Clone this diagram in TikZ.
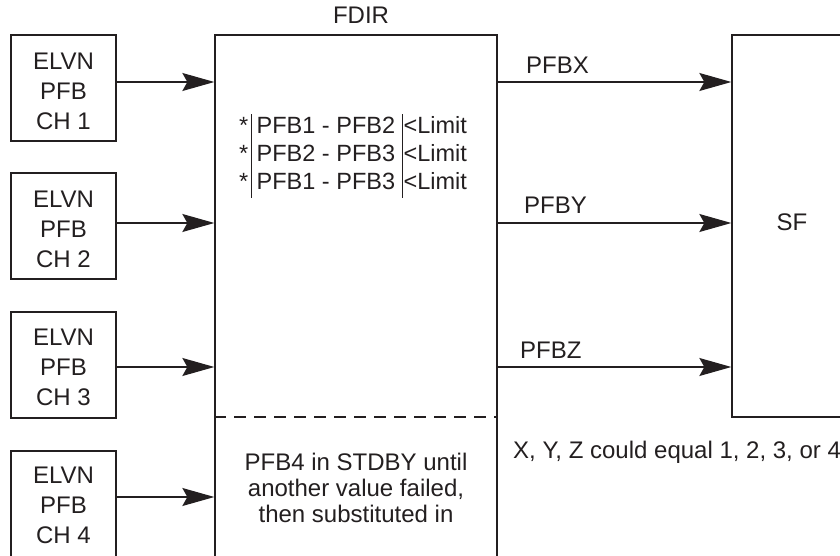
\documentclass[tikz,border=0pt]{standalone}
\usepackage{fontspec}
\setmainfont{Liberation Sans}
\usetikzlibrary{arrows.meta}
\definecolor{ink}{RGB}{35,31,32}
\begin{document}
\begin{tikzpicture}[x=1pt,y=-1pt,
  every node/.style={text=ink},
  line/.style={draw=ink,line width=1.3pt},
  chbox/.style={line,rectangle,minimum width=105pt,minimum height=106pt,inner sep=0pt,align=center,font=\fontsize{24}{30}\selectfont},
  bigbox/.style={line,rectangle,inner sep=0pt},
  flow/.style={draw=ink,line width=1.3pt,-{Stealth[length=32pt,width=18pt,inset=5pt]}},
  lbl/.style={font=\fontsize{24}{28}\selectfont,inner sep=0pt}]
\useasboundingbox (0,0) rectangle (840,556);
% boxes
\node[chbox] (c1) at (63.5,88) {\rule{0pt}{24pt}ELVN\\PFB\\CH 1};
\node[chbox] (c2) at (63.5,226) {\rule{0pt}{24pt}ELVN\\PFB\\CH 2};
\node[chbox] (c3) at (63.5,365) {\rule{0pt}{22pt}ELVN\\PFB\\CH 3};
\node[chbox] (c4) at (63.5,504) {\rule{0pt}{20pt}ELVN\\PFB\\CH 4};
\node[bigbox,minimum width=282pt,minimum height=545pt] (fdir) at (356,307.5) {};
\node[bigbox,minimum width=120pt,minimum height=382pt,font=\fontsize{24}{28}\selectfont] (sf) at (792,226) {SF\rule[-8pt]{0pt}{0pt}};
\node[lbl] (title) at (361,15) {FDIR};
% dashed divider
\coordinate (dl) at (fdir.west |- 0,417);
\coordinate (dr) at (fdir.east |- 0,417);
\draw[draw=ink,line width=1.1pt,dash pattern=on 12pt off 8pt] (dl) -- (dr);
% inputs
\draw[flow] (c1.east |- 0,82) -- (fdir.west |- 0,82);
\draw[flow] (c2.east |- 0,223) -- (fdir.west |- 0,223);
\draw[flow] (c3.east |- 0,367) -- (fdir.west |- 0,367);
\draw[flow] (c4.east |- 0,497) -- (fdir.west |- 0,497);
% outputs
\draw[flow] (fdir.east |- 0,82) -- (sf.west |- 0,82);
\draw[flow] (fdir.east |- 0,223) -- (sf.west |- 0,223);
\draw[flow] (fdir.east |- 0,367) -- (sf.west |- 0,367);
\node[lbl,anchor=west] (lx) at (526,65) {PFBX};
\node[lbl,anchor=west] (ly) at (524,205) {PFBY};
\node[lbl,anchor=west] (lz) at (520,350) {PFBZ};
% comparisons
\node[inner sep=0pt,font=\fontsize{23.5}{28}\selectfont] (cmp) at (353,156) {%
  \setlength{\arrayrulewidth}{1pt}%
  \begin{tabular}{@{}r@{\hspace{3pt}}|@{\hspace{5pt}}l@{\hspace{7pt}}|@{\hspace{1pt}}l@{}}
  {*} & PFB1 - PFB2 & <Limit\\
  {*} & PFB2 - PFB3 & <Limit\\
  {*} & PFB1 - PFB3 & <Limit
  \end{tabular}};
% standby note
\node[lbl,align=center,font=\fontsize{24}{26}\selectfont] (note) at (356,488) {PFB4 in STDBY until\\another value failed,\\then substituted in};
\node[lbl,anchor=west] (xyz) at (513,452) {X, Y, Z could equal 1, 2, 3, or 4};
\end{tikzpicture}
\end{document}
